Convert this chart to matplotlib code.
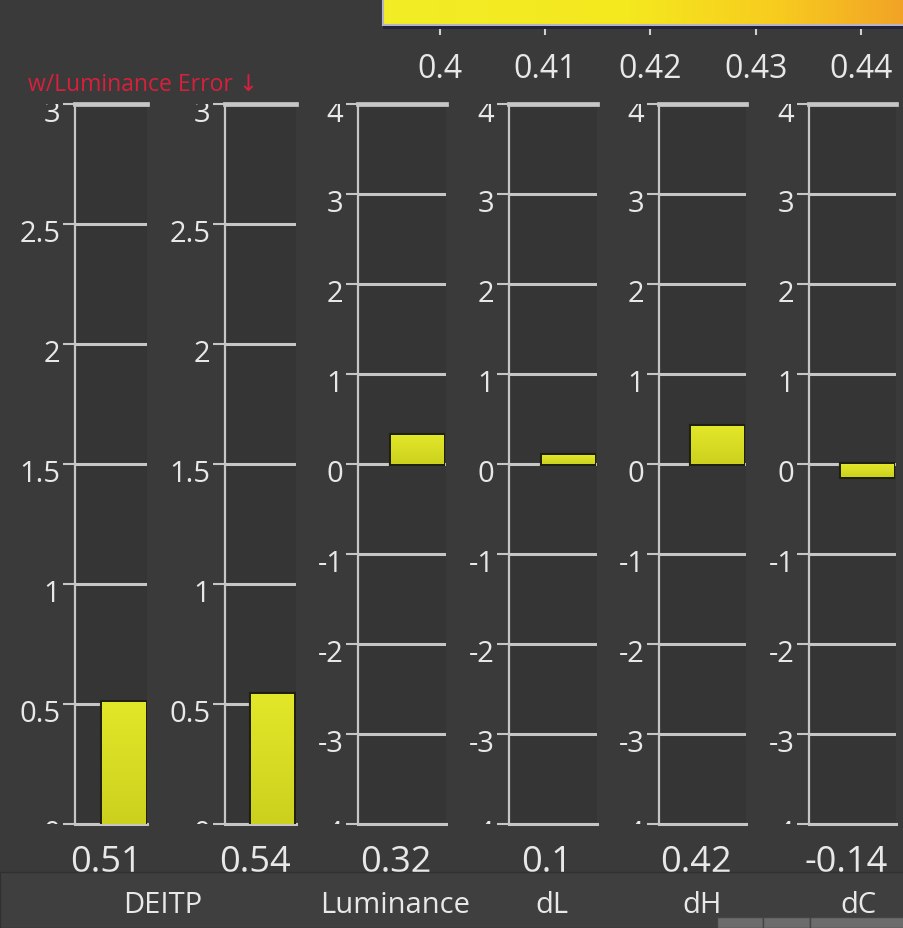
import numpy as np
import matplotlib
matplotlib.use("Agg")
import matplotlib.pyplot as plt
from matplotlib.colors import LinearSegmentedColormap
from matplotlib.patches import Rectangle
from matplotlib.transforms import Bbox, TransformedBbox, ScaledTranslation, blended_transform_factory

# ---- values -------------------------------------------------------------
metric_values = [0.51, 0.54, 0.32, 0.1, 0.42, -0.14]
metric_value_labels = ["0.51", "0.54", "0.32", "0.1", "0.42", "-0.14"]
category_labels = ["DEITP", "Luminance", "dL", "dH", "dC"]
panel_limits = [(0, 3), (0, 3), (-4, 4), (-4, 4), (-4, 4), (-4, 4)]
deitp_ticks = [0, 0.5, 1, 1.5, 2, 2.5, 3]
deitp_tick_labels = ["0", "0.5", "1", "1.5", "2", "2.5", "3"]
delta_ticks = [-4, -3, -2, -1, 0, 1, 2, 3, 4]
delta_tick_labels = ["-4", "-3", "-2", "-1", "0", "1", "2", "3", "4"]
colorbar_ticks = [0.40, 0.41, 0.42, 0.43, 0.44]
colorbar_tick_labels = ["0.4", "0.41", "0.42", "0.43", "0.44"]
colorbar_range = (0.3946, 0.4494)
title_text = "w/Luminance Error \u2193"

# ---- layout (pixels) ----------------------------------------------------
W, H, DPI = 904, 929, 100
panel_left = [75, 225, 358, 509, 659, 809]
panel_right = [147, 296, 446, 597, 746, 896]
panel_top, panel_bottom = 105, 825
category_x = [163, 395, 552, 702, 858]
BAR_X, BAR_W = 0.67, 0.6

FONT = ["Open Sans", "DejaVu Sans"]
plt.rcParams["font.family"] = FONT

BG = "#3a3a3a"
GRID = "#c6c6c6"
TXT = "#e8e8e8"


def px_rect(x0, y0, x1, y1):
    return [x0 / W, 1 - y1 / H, (x1 - x0) / W, (y1 - y0) / H]


fig = plt.figure(figsize=(W / DPI, H / DPI), dpi=DPI, facecolor=BG)

# bottom caption band and strip
fig.patches.append(Rectangle((0, 0), 1, (H - 873) / H, transform=fig.transFigure,
                             facecolor="#3f3f3f", edgecolor="none", zorder=0))
fig.patches.append(Rectangle((0, 0), 1, (H - 873) / H, transform=fig.transFigure,
                             facecolor="none", edgecolor="#303030", lw=1.0, zorder=0))
for x0, x1 in [(717, 763), (763, 810), (810, 904)]:
    fig.patches.append(Rectangle((x0 / W, 0), (x1 - x0) / W, (H - 918) / H,
                                 transform=fig.transFigure, facecolor="#6c6c6c",
                                 edgecolor="#444444", lw=1.0, zorder=0))

bar_cmap = LinearSegmentedColormap.from_list(
    "bar", [(0.0, "#ccd11e"), (1.0, "#e3e729")])

pix_down = ScaledTranslation(0, -6 / DPI, fig.dpi_scale_trans)

for i, (value, lim) in enumerate(zip(metric_values, panel_limits)):
    ax = fig.add_axes(px_rect(panel_left[i], panel_top, panel_right[i], panel_bottom))
    ax.set_facecolor("#353535")
    ticks, labels = (deitp_ticks, deitp_tick_labels) if i < 2 else (delta_ticks, delta_tick_labels)
    ax.set_yticks(ticks)
    ax.set_yticklabels(labels)
    ax.set_xticks([])
    ax.yaxis.grid(True, color=GRID, lw=2.2)
    ax.set_axisbelow(True)
    ax.spines["right"].set_visible(False)
    ax.spines["left"].set_color(GRID)
    ax.spines["left"].set_linewidth(1.6)
    ax.spines["top"].set_color(GRID)
    ax.spines["top"].set_linewidth(3.4)
    ax.spines["bottom"].set_color(GRID)
    ax.spines["bottom"].set_linewidth(2.2)
    ax.tick_params(axis="y", length=8.5, width=1.5, color=GRID, pad=2,
                   labelsize=21, labelcolor=TXT)

    bar = ax.bar(BAR_X, value, BAR_W, color="#d8dc22", edgecolor="#20200f",
                 lw=3.0, zorder=3)[0]
    y_lo = min(bar.get_y(), bar.get_y() + bar.get_height())
    y_hi = max(bar.get_y(), bar.get_y() + bar.get_height())
    shade = np.linspace(1, 0, 64).reshape(-1, 1)
    im = ax.imshow(shade, extent=(bar.get_x(), bar.get_x() + bar.get_width(), y_lo, y_hi),
                   aspect="auto", cmap=bar_cmap, vmin=0, vmax=1, zorder=3.5,
                   origin="upper", interpolation="bilinear")
    im.set_clip_path(bar)
    ax.set_xlim(0, 1)
    ax.set_ylim(*lim)

    clip = TransformedBbox(Bbox([[-2.5, 0], [1, 1]]), ax.transAxes)
    for lbl in ax.get_yticklabels():
        lbl.set_transform(lbl.get_transform() + pix_down)
        lbl.set_clip_box(clip)
        lbl.set_clip_on(True)

    tr = blended_transform_factory(ax.transAxes, fig.transFigure)
    ax.text(0.425, 1 - 872 / H, metric_value_labels[i], transform=tr,
            ha="center", va="baseline", fontsize=26, color=TXT)

for label, x in zip(category_labels, category_x):
    fig.text(x / W, 1 - 913 / H, label, ha="center", va="baseline",
             fontsize=21, color=TXT)

fig.text(28 / W, 1 - 91 / H, title_text, ha="left", va="baseline",
         fontsize=16.5, color="#d8203c", family=FONT)

# ---- colour bar across the top --------------------------------------------
cax = fig.add_axes(px_rect(383, -15, 960, 26))
lo, hi = colorbar_range
span = hi - lo
cbar_cmap = LinearSegmentedColormap.from_list("cb", [
    (0.0, (0.95, 0.93, 0.15)),
    ((0.418 - lo) / span, (0.96, 0.91, 0.12)),
    ((0.432 - lo) / span, (0.97, 0.80, 0.12)),
    ((0.444 - lo) / span, (0.95, 0.64, 0.15)),
    (1.0, (0.94, 0.60, 0.16)),
])
cax.imshow(np.linspace(lo, hi, 256).reshape(1, -1), extent=(lo, hi, 0, 1),
           aspect="auto", cmap=cbar_cmap, vmin=lo, vmax=hi, interpolation="bilinear")
cax.set_xlim(lo, hi)
cax.set_ylim(0, 1)
cax.set_yticks([])
cax.set_xticks(colorbar_ticks)
cax.set_xticklabels(colorbar_tick_labels)
cax.tick_params(axis="x", length=7.2, width=1.5, color="#d0d0d0", pad=12.5,
                labelsize=23, labelcolor=TXT)
for side in ["top", "right"]:
    cax.spines[side].set_visible(False)
for side in ["left", "bottom"]:
    cax.spines[side].set_color("#b6b2c8")
    cax.spines[side].set_linewidth(1.5)
fig.patches.append(Rectangle((383 / W, 1 - 30 / H), (W - 383) / W, 3 / H,
                             transform=fig.transFigure, facecolor="#23233a",
                             edgecolor="none", zorder=0))

fig.savefig("out.png", dpi=DPI, facecolor=BG)
